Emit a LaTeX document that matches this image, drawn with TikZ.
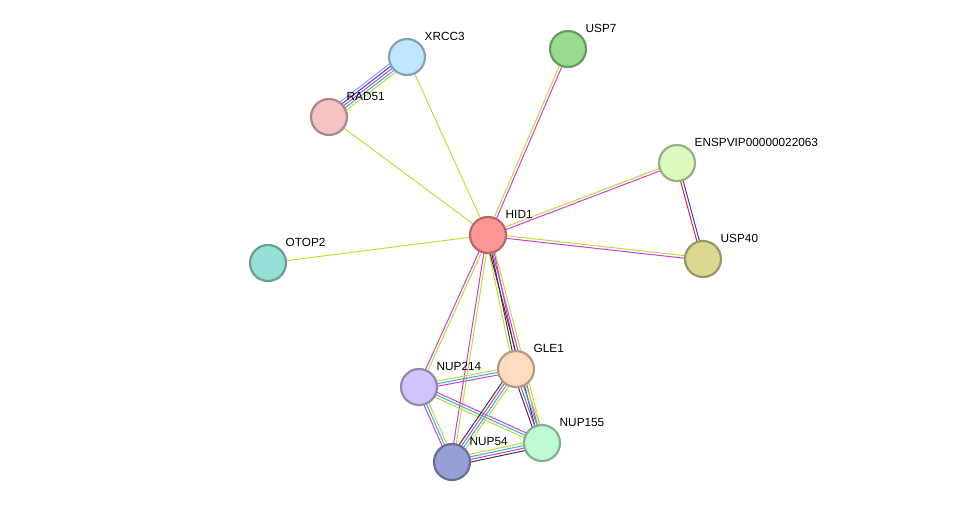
\documentclass[tikz,border=0pt]{standalone}
\usepackage{fontspec}
\setmainfont{Liberation Sans}
\usetikzlibrary{calc}
\definecolor{tmcol}{RGB}{199,215,60}
\definecolor{excol}{RGB}{208,64,208}
\definecolor{dbcol}{RGB}{40,180,220}
\definecolor{cocol}{RGB}{60,60,60}
\definecolor{blcol}{RGB}{60,60,230}
\definecolor{rdcol}{RGB}{230,40,40}
\definecolor{lvcol}{RGB}{150,150,255}
\tikzset{
  prot/.style={circle, draw=#1!70!black, line width=2.2pt, minimum size=36pt, inner sep=0pt},
  lab/.style={font=\fontsize{11.8}{13}\selectfont, inner sep=1pt}
}
% multi-coloured link: \link{from}{to}{number of lines}{colours}
\newcommand\link[4]{%
  \foreach \c [count=\i] in {#4} {%
    \pgfmathsetmacro\off{(\i-(#3+1)/2)*2.6}
    \draw[\c, line width=1pt] ($(#1)!\off pt!90:(#2)$) -- ($(#2)!\off pt!-90:(#1)$);
  }}
\begin{document}
\begin{tikzpicture}[x=1pt, y=-1pt]
  \useasboundingbox (0,0) rectangle (975,507);

  % proteins
  \definecolor{chid}{RGB}{255,150,150}
  \definecolor{cxrcc}{RGB}{190,230,255}
  \definecolor{cusps}{RGB}{150,220,140}
  \definecolor{crad}{RGB}{245,195,195}
  \definecolor{cens}{RGB}{220,250,190}
  \definecolor{cotop}{RGB}{150,225,215}
  \definecolor{cusp}{RGB}{220,215,145}
  \definecolor{cgle}{RGB}{255,220,190}
  \definecolor{cnupa}{RGB}{210,195,250}
  \definecolor{cnupb}{RGB}{190,250,210}
  \definecolor{cnupc}{RGB}{150,160,215}
  \coordinate (hid) at (488,235);
  \coordinate (xrcc) at (407,57);
  \coordinate (usps) at (568,49);
  \coordinate (rad) at (329,117);
  \coordinate (ens) at (677,163);
  \coordinate (otop) at (268,263);
  \coordinate (usp) at (703,259);
  \coordinate (gle) at (516,369);
  \coordinate (nupa) at (419,387);
  \coordinate (nupb) at (542,443);
  \coordinate (nupc) at (452,462);

  % links
  \link{hid}{xrcc}{1}{tmcol}
  \link{hid}{usps}{2}{excol,tmcol}
  \link{hid}{rad}{1}{tmcol}
  \link{hid}{ens}{2}{excol,tmcol}
  \link{hid}{usp}{2}{excol,tmcol}
  \link{hid}{otop}{1}{tmcol}
  \link{hid}{nupa}{2}{excol,tmcol}
  \link{hid}{nupc}{2}{excol,tmcol}
  \link{hid}{gle}{3}{tmcol,cocol,excol}
  \link{hid}{nupb}{3}{cocol,excol,tmcol}
  \link{rad}{xrcc}{5}{tmcol,dbcol,excol,blcol,lvcol}
  \link{ens}{usp}{2}{rdcol,blcol}
  \link{nupa}{gle}{3}{excol,dbcol,tmcol}
  \link{nupa}{nupb}{3}{tmcol,dbcol,excol}
  \link{nupa}{nupc}{3}{excol,dbcol,tmcol}
  \link{gle}{nupc}{4}{cocol,excol,dbcol,tmcol}
  \link{gle}{nupb}{4}{cocol,excol,dbcol,tmcol}
  \link{nupc}{nupb}{4}{cocol,excol,dbcol,tmcol}

  \node[prot=chid, fill=chid] (HID1) at (hid) {};
  \node[prot=cxrcc, fill=cxrcc] (XRCC3) at (xrcc) {};
  \node[prot=cusps, fill=cusps] (USP7) at (usps) {};
  \node[prot=crad, fill=crad] (RAD51) at (rad) {};
  \node[prot=cens, fill=cens] (ENSP) at (ens) {};
  \node[prot=cotop, fill=cotop] (OTOP2) at (otop) {};
  \node[prot=cusp, fill=cusp] (USP40) at (usp) {};
  \node[prot=cgle, fill=cgle] (GLE1) at (gle) {};
  \node[prot=cnupa, fill=cnupa] (NUP214) at (nupa) {};
  \node[prot=cnupb, fill=cnupb] (NUP155) at (nupb) {};
  \node[prot=cnupc, fill=cnupc] (NUP54) at (nupc) {};

  % labels
  \foreach \n/\t in {HID1/HID1, XRCC3/XRCC3, USP7/USP7, RAD51/RAD51, ENSP/ENSPVIP00000022063,
      OTOP2/OTOP2, USP40/USP40, GLE1/GLE1, NUP214/NUP214, NUP155/NUP155, NUP54/NUP54}
    \node[lab, anchor=south west] (\n-lab) at ($(\n.north east)+(3,-2)$) {\t};
\end{tikzpicture}
\end{document}
